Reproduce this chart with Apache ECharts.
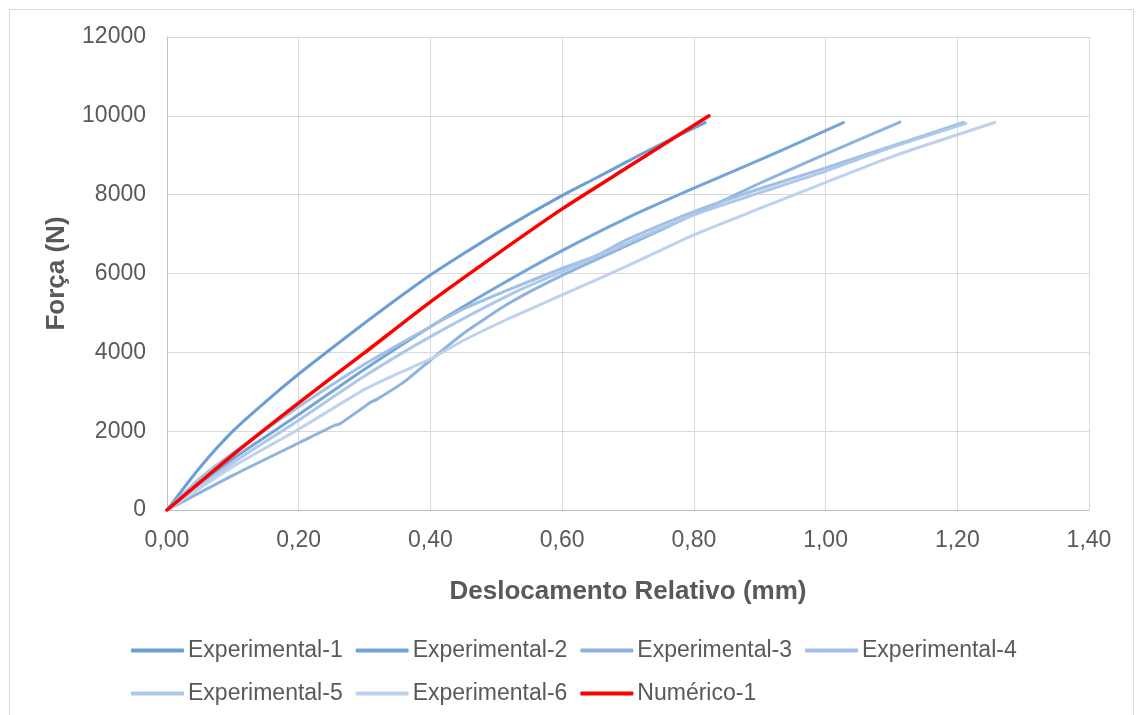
<!DOCTYPE html>
<html>
<head>
<meta charset="utf-8">
<script src="https://cdn.jsdelivr.net/npm/echarts@6/dist/echarts.min.js"></script>
<style>
html,body{margin:0;padding:0;background:#fff;}
#chart{width:1138px;height:715px;}
</style>
</head>
<body>
<div id="chart"></div>
<script>
// Data (x = Deslocamento Relativo in mm, y = Força in N)
const seriesNames = ['Experimental-1','Experimental-2','Experimental-3','Experimental-4','Experimental-5','Experimental-6','Numérico-1'];
const exp1 = [[0,0],[0.05,1080],[0.1,2000],[0.15,2750],[0.2,3450],[0.263,4270],[0.323,5030],[0.4,5960],[0.45,6500],[0.51,7120],[0.597,7950],[0.65,8410],[0.7,8850],[0.733,9140],[0.817,9830]];
const exp2 = [[0,0],[0.1,1300],[0.2,2420],[0.3,3570],[0.4,4650],[0.5,5650],[0.6,6580],[0.7,7420],[0.8,8164],[0.935,9137],[1.027,9830]];
const exp3 = [[0,0],[0.1,880],[0.2,1700],[0.255,2150],[0.262,2180],[0.31,2740],[0.318,2800],[0.36,3250],[0.4,3800],[0.45,4480],[0.52,5250],[0.6,5950],[0.7,6720],[0.8,7500],[0.9,8290],[0.991,8967],[1.113,9840]];
const exp4 = [[0,0],[0.05,800],[0.1,1450],[0.2,2620],[0.3,3700],[0.4,4650],[0.45,5100],[0.52,5600],[0.6,6130],[0.65,6440],[0.7,6870],[0.8,7570],[0.9,8150],[0.991,8630],[1.1,9230],[1.209,9830]];
const exp5 = [[0,0],[0.1,1200],[0.2,2280],[0.3,3400],[0.4,4400],[0.52,5460],[0.6,6050],[0.7,6780],[0.8,7490],[0.9,8050],[0.991,8545],[1.1,9200],[1.213,9810]];
const exp6 = [[0,0],[0.1,1100],[0.2,2050],[0.3,3060],[0.35,3460],[0.4,3830],[0.45,4300],[0.52,4865],[0.6,5457],[0.7,6200],[0.8,6980],[0.9,7650],[0.991,8249],[1.1,8960],[1.257,9830]];
const num1 = [[0,0],[0.1,1400],[0.2,2720],[0.3,3990],[0.4,5280],[0.5,6480],[0.6,7640],[0.7,8700],[0.823,10000]];
const xTicks = [0,0.2,0.4,0.6,0.8,1.0,1.2,1.4];
const yTicks = [0,2000,4000,6000,8000,10000,12000];

const allData = [exp1,exp2,exp3,exp4,exp5,exp6,num1];
const colors = ['#6A9FD6','#74A5D9','#8EB3E1','#A2C0E6','#AEC8EA','#BDD3ED','#FF0000'];
const textColor = '#595959';
const font = 'Liberation Sans, Arial, sans-serif';

const chart = echarts.init(document.getElementById('chart'), null, {renderer:'canvas'});
const legendCommon = {
  icon: 'roundRect',
  itemWidth: 53,
  itemHeight: 4,
  itemGap: 13,
  textStyle: {color: textColor, fontSize: 23, fontFamily: font, padding: [0,0,0,-1]},
  orient: 'horizontal'
};
chart.setOption({
  animation: false,
  backgroundColor: '#fff',
  graphic: [{
    type: 'rect', left: 7, top: 7,
    shape: {width: 1124, height: 720},
    style: {fill: 'none', stroke: '#D9D9D9', lineWidth: 1}
  }],
  grid: {left: 167, right: 49, top: 37, bottom: 205, containLabel: false},
  legend: [
    Object.assign({}, legendCommon, {data: seriesNames.slice(0,4), left: 126, top: 634}),
    Object.assign({}, legendCommon, {data: seriesNames.slice(4), left: 126, top: 677})
  ],
  xAxis: {
    type: 'value', min: 0, max: 1.4, interval: 0.2,
    name: 'Deslocamento Relativo (mm)', nameLocation: 'middle', nameGap: 69,
    nameTextStyle: {color: textColor, fontSize: 26, fontWeight: 'bold', fontFamily: font},
    axisLine: {show: true, lineStyle: {color: '#BFBFBF', width: 1}},
    axisTick: {show: false},
    axisLabel: {color: textColor, fontSize: 23, fontFamily: font, margin: 19,
      formatter: v => v.toFixed(2).replace('.', ',')},
    splitLine: {show: true, lineStyle: {color: '#D9D9D9', width: 1}}
  },
  yAxis: {
    type: 'value', min: 0, max: 12000, interval: 2000,
    name: 'Força (N)', nameLocation: 'middle', nameGap: 97, nameRotate: 90,
    nameTextStyle: {color: textColor, fontSize: 26, fontWeight: 'bold', fontFamily: font},
    axisLine: {show: true, lineStyle: {color: '#BFBFBF', width: 1}},
    axisTick: {show: false},
    axisLabel: {color: textColor, fontSize: 23, fontFamily: font, margin: 21,
      formatter: v => String(v)},
    splitLine: {show: true, lineStyle: {color: '#D9D9D9', width: 1}}
  },
  series: allData.map((d, i) => ({
    name: seriesNames[i],
    type: 'line',
    data: d,
    showSymbol: false,
    symbol: 'none',
    smooth: 0.2,
    color: colors[i],
    lineStyle: {color: colors[i], width: i === 6 ? 3.5 : 3, cap: 'round', join: 'round'},
    z: 2 + i
  }))
});
</script>
</body>
</html>
